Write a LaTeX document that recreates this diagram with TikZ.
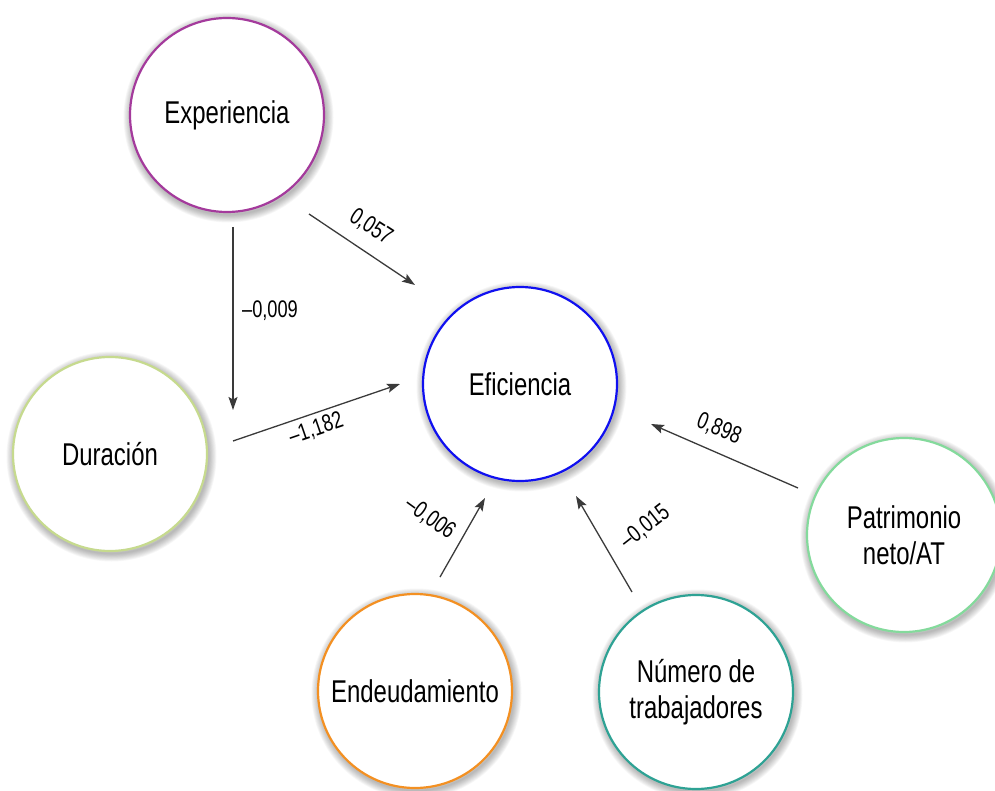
\documentclass[tikz,border=0pt]{standalone}
\usepackage{fontspec}
\setmainfont{Liberation Sans}[FakeStretch=0.76]
\usetikzlibrary{arrows.meta,calc,backgrounds}

\definecolor{cExp}{HTML}{A43A9C}
\definecolor{cEfi}{HTML}{1010F0}
\definecolor{cDur}{HTML}{C6DA8E}
\definecolor{cEnd}{HTML}{F39022}
\definecolor{cNum}{HTML}{2EA294}
\definecolor{cPat}{HTML}{84DA9C}
\definecolor{cArr}{HTML}{3A3A3A}

\tikzset{
  var/.style={circle, minimum size=194pt, inner sep=0pt, line width=2.2pt,
              fill=white, align=center, font=\fontsize{31.5}{36}\selectfont},
  arr/.style={draw=cArr, line width=1.3pt,
              -{Stealth[length=13pt,width=9pt,inset=2.5pt]}},
  coef/.style={inner sep=1pt, font=\fontsize{24}{28}\selectfont},
}

\begin{document}
\begin{tikzpicture}[x=1pt,y=-1pt]
  \useasboundingbox (0,0) rectangle (995,791);

  % variables
  \node[var, draw=cExp] (exp) at (227,115) {Experiencia};
  \node[var, draw=cEfi] (efi) at (520,384) {Eficiencia};
  \node[var, draw=cDur] (dur) at (110,454) {Duración};
  \node[var, draw=cEnd] (end) at (415,691) {Endeudamiento};
  \node[var, draw=cNum] (num) at (696,692) {Número de\\trabajadores};
  \node[var, draw=cPat] (pat) at (904,535) {Patrimonio\\neto/AT};

  % soft halo behind each circle
  \begin{scope}[on background layer]
    \foreach \n in {exp,efi,dur,end,num,pat}
      \foreach \k in {1,...,10}
        \draw[black, opacity=0.032, line width=\k*1.6pt]
          ($(\n.center)+(1.5,2.5)$) circle[radius=97pt];
  \end{scope}

  % paths with coefficients
  \draw[arr] ($(exp.center)+(82,99)$)   -- ($(efi.center)+(-105,-99)$);
  \draw[arr] ($(exp.center)+(6,112)$)   -- ($(dur.center)+(123,-44)$);
  \draw[arr] ($(dur.center)+(123,-13)$) -- ($(efi.center)+(-120,0)$);
  \draw[arr] ($(end.center)+(25,-114)$) -- ($(efi.center)+(-35,114)$);
  \draw[arr] ($(num.center)+(-64,-100)$) -- ($(efi.center)+(56,112)$);
  \draw[arr] ($(pat.center)+(-106,-47)$) -- ($(efi.center)+(131,40)$);

  \node[coef, rotate=-33] (k1) at (371,227) {0,057};
  \node[coef]             (k2) at (270,311) {–0,009};
  \node[coef, rotate=19]  (k3) at (316,429) {–1,182};
  \node[coef, rotate=-36] (k4) at (430,518) {–0,006};
  \node[coef, rotate=38]  (k5) at (645,527) {–0,015};
  \node[coef, rotate=-22] (k6) at (719,429) {0,898};
\end{tikzpicture}
\end{document}
